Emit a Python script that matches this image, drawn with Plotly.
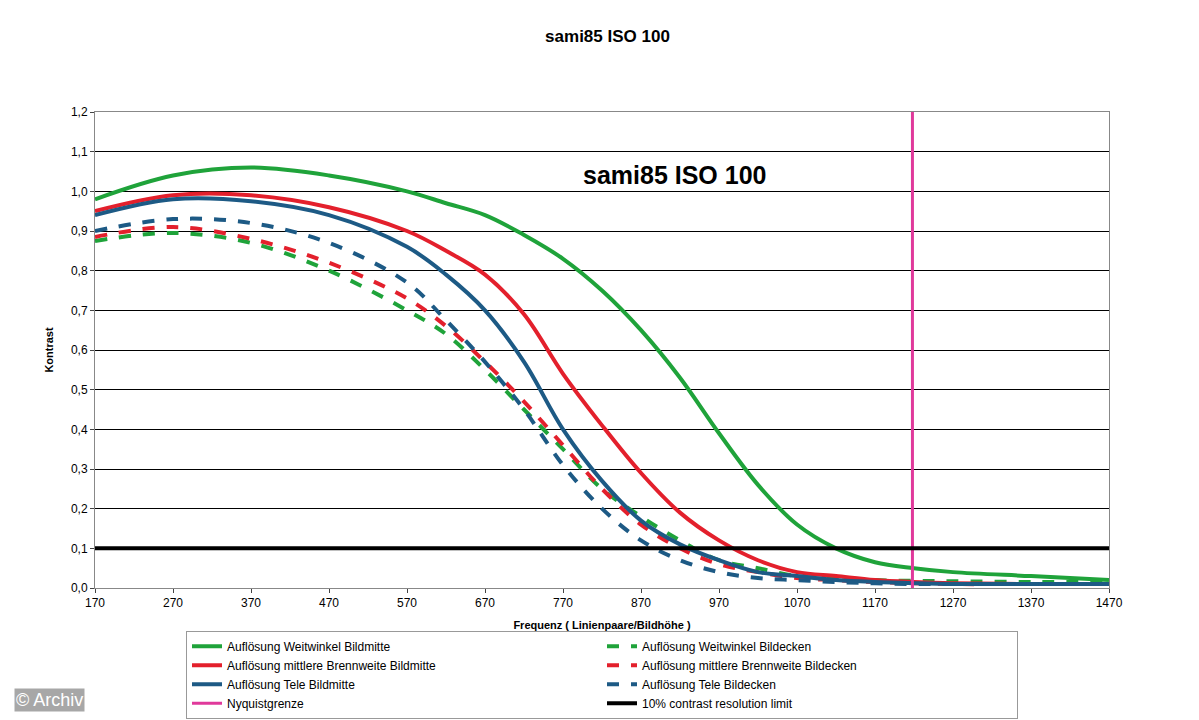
import plotly.graph_objects as go

FREQ = [170, 270, 370, 470, 570, 620, 670, 720, 770, 820, 870, 920, 970, 1020, 1070, 1120, 1170, 1220, 1270, 1370, 1470]

WW_MITTE = [0.98, 1.04, 1.06, 1.04, 1.00, 0.97, 0.94, 0.89, 0.83, 0.75, 0.65, 0.53, 0.39, 0.26, 0.16, 0.10, 0.065, 0.05, 0.04, 0.03, 0.02]
MB_MITTE = [0.95, 0.99, 0.99, 0.96, 0.90, 0.85, 0.79, 0.69, 0.54, 0.41, 0.29, 0.19, 0.12, 0.07, 0.04, 0.03, 0.02, 0.015, 0.012, 0.01, 0.01]
TE_MITTE = [0.94, 0.98, 0.975, 0.94, 0.86, 0.79, 0.70, 0.57, 0.40, 0.27, 0.17, 0.11, 0.07, 0.04, 0.03, 0.02, 0.015, 0.012, 0.01, 0.01, 0.01]
WW_ECKEN = [0.875, 0.895, 0.87, 0.80, 0.70, 0.64, 0.55, 0.45, 0.35, 0.25, 0.18, 0.12, 0.07, 0.05, 0.03, 0.025, 0.02, 0.018, 0.017, 0.015, 0.015]
MB_ECKEN = [0.885, 0.91, 0.88, 0.82, 0.73, 0.66, 0.57, 0.47, 0.36, 0.25, 0.16, 0.10, 0.06, 0.04, 0.025, 0.02, 0.015, 0.012, 0.01, 0.01, 0.01]
TE_ECKEN = [0.90, 0.93, 0.92, 0.87, 0.77, 0.675, 0.57, 0.45, 0.31, 0.20, 0.12, 0.07, 0.04, 0.025, 0.02, 0.015, 0.012, 0.01, 0.01, 0.01, 0.01]

NYQUIST = 1218
LIMIT = 0.1

GREEN, RED, BLUE, PINK = "#1fa33a", "#e3202c", "#1d5a85", "#e0399b"

fig = go.Figure()
series = [
    ("Auflösung Weitwinkel Bildmitte", WW_MITTE, GREEN, "solid"),
    ("Auflösung Weitwinkel Bildecken", WW_ECKEN, GREEN, "dash"),
    ("Auflösung mittlere Brennweite Bildmitte", MB_MITTE, RED, "solid"),
    ("Auflösung mittlere Brennweite Bildecken", MB_ECKEN, RED, "dash"),
    ("Auflösung Tele Bildmitte", TE_MITTE, BLUE, "solid"),
    ("Auflösung Tele Bildecken", TE_ECKEN, BLUE, "dash"),
]
for name, vals, col, dash in series:
    fig.add_trace(go.Scatter(x=FREQ, y=vals, name=name, mode="lines", line_shape="spline",
                             line=dict(color=col, width=4, dash=dash)))
fig.add_trace(go.Scatter(x=[NYQUIST, NYQUIST], y=[0, 1.2], name="Nyquistgrenze", mode="lines",
                         line=dict(color=PINK, width=3)))
fig.add_trace(go.Scatter(x=[170, 1470], y=[LIMIT, LIMIT], name="10% contrast resolution limit", mode="lines",
                         line=dict(color="black", width=4)))

fig.update_layout(
    width=1199, height=720,
    paper_bgcolor="white", plot_bgcolor="white",
    font=dict(family="Liberation Sans, Arial", color="black", size=12),
    title=dict(text="<b>sami85 ISO 100</b>", x=0.5, y=0.97, xanchor="center", font=dict(size=17)),
    margin=dict(l=87, r=98, t=104, b=140, autoexpand=False),
    xaxis=dict(range=[170, 1470], tickvals=list(range(170, 1471, 100)), showgrid=False,
               showline=True, linecolor="#888", mirror=True, ticks="outside", ticklen=4,
               title=dict(text="<b>Frequenz ( Linienpaare/Bildhöhe )</b>", font=dict(size=11), standoff=12)),
    yaxis=dict(range=[0, 1.2], dtick=0.1, tickformat=".1f",
               gridcolor="black", gridwidth=1, showline=True, linecolor="#888", mirror=True,
               ticks="outside", ticklen=4,
               title=dict(text="<b>Kontrast</b>", font=dict(size=11))),
    separators=", ",
    legend=dict(orientation="h", x=0.5, xanchor="center", y=0.135, yanchor="top", yref="container",
                entrywidth=370, bordercolor="#999", borderwidth=1, font=dict(size=12),
                tracegroupgap=0),
    annotations=[
        dict(text="<b>sami85 ISO 100</b>", x=913, y=1.04, xref="x", yref="y", showarrow=False,
             xanchor="center", font=dict(size=25)),
        dict(text="© Archiv", x=-0.08, y=-0.26, xref="paper", yref="paper", xanchor="left",
             yanchor="bottom", showarrow=False, font=dict(size=18, color="white"),
             bgcolor="rgba(80,80,80,0.5)"),
    ],
)

fig.write_html("out.html")
